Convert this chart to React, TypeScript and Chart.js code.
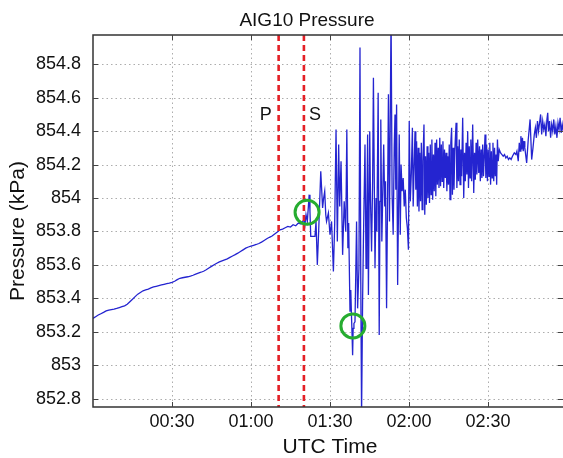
import React, { useEffect, useRef } from 'react';
import { Chart, registerables } from 'chart.js';

Chart.register(...registerables);

const FONT = '"Liberation Sans", Arial, Helvetica, sans-serif';

const chartTitle = 'AIG10 Pressure';
const xAxisTitle = 'UTC Time';
const yAxisTitle = 'Pressure (kPa)';

const xTickMinutes = [30, 60, 90, 120, 150];
const yTickValues = [852.8, 853.0, 853.2, 853.4, 853.6, 853.8, 854.0, 854.2, 854.4, 854.6, 854.8];

const phaseNames = ['P', 'S'];
const phaseMinutes = [70.5, 80.1];

const circleMinutes = [81.3, 98.7];
const circlePressures = [853.915, 853.235];

const quietMinutes = [
  0, 1, 2, 3, 4, 5, 6, 7, 8, 9, 10, 11, 12, 13, 14, 15, 16, 17, 18, 19,
  20, 21, 22, 23, 24, 25, 26, 27, 28, 29, 30, 31, 32, 33, 34, 35, 36, 37, 38, 39,
  40, 41, 42, 43, 44, 45, 46, 47, 48, 49, 50, 51, 52, 53, 54, 55, 56, 57, 58, 59,
  60, 61, 62, 63, 64, 65, 66, 67, 68, 69, 70, 71, 72, 73, 74, 75, 76, 77, 78, 79,
];
const quietPressures = [
  853.280, 853.290, 853.300, 853.308, 853.316, 853.325, 853.330, 853.333, 853.336, 853.340,
  853.345, 853.350, 853.355, 853.365, 853.380, 853.395, 853.410, 853.425, 853.435, 853.445,
  853.450, 853.455, 853.462, 853.468, 853.472, 853.476, 853.480, 853.484, 853.488, 853.491,
  853.495, 853.502, 853.512, 853.520, 853.523, 853.526, 853.529, 853.533, 853.538, 853.545,
  853.551, 853.556, 853.562, 853.571, 853.581, 853.591, 853.601, 853.610, 853.618, 853.624,
  853.630, 853.636, 853.645, 853.653, 853.661, 853.670, 853.680, 853.690, 853.700, 853.707,
  853.712, 853.717, 853.722, 853.728, 853.736, 853.746, 853.756, 853.765, 853.773, 853.785,
  853.797, 853.810, 853.814, 853.822, 853.830, 853.826, 853.840, 853.834, 853.850, 853.845,
];

// [minutes after 00:00, pressure kPa]
const shakingTrace: [number, number][] = [
  [80.1, 853.87], [80.5, 853.84], [80.9, 853.90], [81.4, 853.86], [81.8, 853.95], [82.1, 854.02],
  [82.4, 853.92], [82.7, 853.77], [83.5, 853.77], [84.3, 853.77], [84.7, 853.86], [85.2, 853.60],
  [85.7, 853.80], [86.5, 854.16], [87.2, 853.94], [87.6, 854.00], [88.0, 854.04], [88.4, 853.90],
  [88.7, 853.86], [89.4, 853.91], [90.0, 853.78], [90.6, 853.86], [91.3, 853.56], [91.8, 853.85],
  [92.3, 854.41], [92.8, 853.74], [93.3, 854.32], [93.7, 853.95], [94.2, 854.22], [94.8, 853.66],
  [95.4, 853.98], [96.0, 853.80], [96.4, 854.41], [96.8, 853.70], [97.1, 853.85], [97.6, 853.32],
  [97.9, 853.45], [98.2, 853.28], [98.4, 853.18], [98.6, 853.06], [98.8, 853.22], [99.1, 853.25],
  [99.5, 853.26], [99.8, 853.55], [100.1, 853.86], [100.5, 853.34], [101.0, 853.58], [101.4, 854.90],
  [101.7, 853.50], [102.0, 852.70], [102.4, 853.40], [102.7, 853.74], [103.3, 854.32], [103.7, 853.58],
  [104.0, 853.90], [104.3, 854.38], [104.6, 853.42], [105.1, 854.40], [105.4, 853.98], [105.8, 853.68],
  [106.2, 854.10], [106.5, 854.72], [107.1, 853.58], [107.5, 854.00], [107.8, 853.80], [108.3, 854.63],
  [108.7, 853.18], [109.0, 853.98], [109.3, 854.47], [109.7, 853.74], [110.4, 854.32], [110.8, 853.95],
  [111.1, 854.10], [111.5, 853.34], [111.9, 854.05], [112.2, 854.62], [112.6, 853.86], [113.2, 855.10],
  [113.6, 854.02], [114.0, 853.78], [114.4, 854.30], [114.7, 854.50], [115.0, 854.05], [115.3, 854.56],
  [115.7, 853.48], [116.0, 853.90], [116.3, 854.38], [116.7, 853.78], [117.0, 854.20], [117.4, 854.04],
  [117.8, 854.12], [118.2, 853.95], [118.6, 854.05], [119.0, 853.88], [119.4, 853.82], [119.8, 853.69],
  [120.1, 854.46], [120.5, 853.98], [120.9, 854.15], [121.3, 854.42], [121.6, 853.95], [122.0, 854.22],
  [122.3, 854.40], [122.6, 854.05], [122.9, 854.34], [123.2, 853.95], [123.5, 854.30], [123.8, 853.92],
  [124.1, 854.27], [124.4, 853.98], [124.7, 854.33], [125.0, 853.93], [125.3, 854.22], [125.7, 854.44],
  [126.0, 853.90], [126.3, 854.25], [126.6, 853.96], [126.9, 854.31], [127.2, 854.00], [127.5, 854.27],
  [127.8, 853.97], [128.1, 854.32], [128.4, 854.02], [128.7, 854.35], [129.0, 853.99], [129.3, 854.26],
  [129.6, 854.04], [129.9, 854.33], [130.2, 854.01], [130.5, 854.35], [130.8, 854.08], [131.1, 854.30],
  [131.4, 854.06], [131.7, 854.36], [132.0, 854.07], [132.3, 854.32], [132.6, 854.10], [132.9, 854.34],
  [133.2, 854.06], [133.5, 854.29], [133.8, 854.12], [134.1, 854.27], [134.4, 854.04], [134.7, 854.25],
  [135.0, 854.08], [135.3, 854.32], [135.6, 853.99], [135.9, 854.33], [136.2, 854.42], [136.5, 854.02],
  [136.8, 854.30], [137.1, 854.05], [137.4, 854.28], [137.9, 854.45], [138.2, 854.06], [138.5, 854.31],
  [138.8, 854.10], [139.1, 854.35], [139.4, 854.08], [139.7, 854.29], [140.0, 854.13], [140.4, 854.48],
  [140.8, 854.00], [141.1, 854.27], [141.4, 854.10], [141.7, 854.33], [142.0, 854.14], [142.3, 854.40],
  [142.6, 854.06], [142.9, 854.31], [143.2, 854.12], [143.5, 854.35], [143.8, 854.10], [144.2, 854.44],
  [144.6, 854.03], [144.9, 854.27], [145.2, 854.11], [145.5, 854.33], [145.8, 854.14], [146.1, 854.35],
  [146.5, 854.15], [146.8, 854.31], [147.1, 854.10], [147.4, 854.29], [147.7, 854.12], [148.0, 854.32],
  [148.3, 854.13], [148.9, 854.38], [149.2, 854.12], [149.5, 854.32], [149.8, 854.10], [150.1, 854.29],
  [150.4, 854.13], [150.7, 854.33], [151.0, 854.08], [151.3, 854.28], [151.6, 854.12], [151.9, 854.33],
  [152.2, 854.10], [152.5, 854.30], [152.8, 854.13], [153.1, 854.26], [153.3, 854.08], [153.6, 854.35],
  [153.9, 854.22], [154.3, 854.29], [154.8, 854.27], [155.3, 854.26], [155.8, 854.25], [156.3, 854.26],
  [156.8, 854.24], [157.3, 854.25], [157.8, 854.23], [158.3, 854.24], [158.8, 854.23], [159.3, 854.25],
  [160.0, 854.27], [160.6, 854.26], [161.0, 854.28], [161.5, 854.22], [161.9, 854.33], [162.2, 854.28],
  [162.5, 854.37], [162.8, 854.29], [163.1, 854.36], [163.4, 854.28], [163.7, 854.34], [164.0, 854.30],
  [164.7, 854.21], [165.3, 854.35], [166.0, 854.47], [166.6, 854.23], [167.1, 854.30], [167.6, 854.38],
  [168.0, 854.42], [168.4, 854.36], [168.8, 854.46], [169.2, 854.40], [169.6, 854.45], [170.0, 854.50],
  [170.4, 854.38], [170.8, 854.46], [171.2, 854.41], [171.6, 854.44], [172.0, 854.37], [172.4, 854.47],
  [172.7, 854.51], [173.0, 854.40], [173.4, 854.46], [173.8, 854.36], [174.2, 854.44], [174.6, 854.40],
  [175.0, 854.47], [175.4, 854.38], [175.8, 854.43], [176.2, 854.36], [176.6, 854.45], [177.0, 854.41],
  [177.4, 854.48], [177.8, 854.39], [178.2, 854.44], [178.6, 854.40],
];

const X_MIN = 0;
const X_MAX = 178.5;
const Y_MIN = 852.75;
const Y_MAX = 854.975;

function fmtTime(m: number): string {
  const h = Math.floor(m / 60);
  const mm = Math.round(m - h * 60);
  return String(h).padStart(2, '0') + ':' + String(mm).padStart(2, '0');
}

const decorPlugin = {
  id: 'decor',
  beforeDatasetsDraw(chart: any) {
    const { ctx, chartArea: a, scales } = chart;
    const x = scales.x;
    const y = scales.y;
    ctx.save();
    ctx.strokeStyle = 'rgba(0,0,0,0.32)';
    ctx.lineWidth = 1;
    ctx.setLineDash([1.5, 3]);
    for (const t of xTickMinutes) {
      const px = Math.round(x.getPixelForValue(t)) + 0.5;
      ctx.beginPath();
      ctx.moveTo(px, a.top);
      ctx.lineTo(px, a.bottom);
      ctx.stroke();
    }
    for (const v of yTickValues) {
      const py = Math.round(y.getPixelForValue(v)) + 0.5;
      ctx.beginPath();
      ctx.moveTo(a.left, py);
      ctx.lineTo(a.right, py);
      ctx.stroke();
    }
    ctx.restore();
  },
  afterDatasetsDraw(chart: any) {
    const { ctx, chartArea: a, scales } = chart;
    const x = scales.x;
    const y = scales.y;
    ctx.save();
    // phase lines
    ctx.strokeStyle = 'rgb(228,32,38)';
    ctx.lineWidth = 2.6;
    ctx.setLineDash([6, 4]);
    for (const t of phaseMinutes) {
      const px = x.getPixelForValue(t);
      ctx.beginPath();
      ctx.moveTo(px, a.top);
      ctx.lineTo(px, a.bottom);
      ctx.stroke();
    }
    ctx.setLineDash([]);
    // circles
    ctx.strokeStyle = 'rgb(38,172,48)';
    ctx.lineWidth = 3;
    circleMinutes.forEach((t, i) => {
      const px = x.getPixelForValue(t);
      const py = y.getPixelForValue(circlePressures[i]);
      ctx.beginPath();
      ctx.arc(px, py, 12, 0, Math.PI * 2);
      ctx.stroke();
    });
    // box
    ctx.strokeStyle = '#333';
    ctx.lineWidth = 1.5;
    ctx.beginPath();
    ctx.moveTo(a.right + 1, a.top);
    ctx.lineTo(a.left, a.top);
    ctx.lineTo(a.left, a.bottom);
    ctx.lineTo(a.right + 1, a.bottom);
    ctx.stroke();
    // inner ticks
    ctx.lineWidth = 1;
    ctx.strokeStyle = '#444';
    for (const t of xTickMinutes) {
      const px = Math.round(x.getPixelForValue(t)) + 0.5;
      ctx.beginPath();
      ctx.moveTo(px, a.bottom);
      ctx.lineTo(px, a.bottom - 5);
      ctx.moveTo(px, a.top);
      ctx.lineTo(px, a.top + 5);
      ctx.stroke();
    }
    for (const v of yTickValues) {
      const py = Math.round(y.getPixelForValue(v)) + 0.5;
      ctx.beginPath();
      ctx.moveTo(a.left, py);
      ctx.lineTo(a.left + 5, py);
      ctx.moveTo(a.right, py);
      ctx.lineTo(a.right - 5, py);
      ctx.stroke();
    }
    ctx.restore();
  },
  afterDraw(chart: any) {
    const { ctx, scales } = chart;
    const x = scales.x;
    ctx.save();
    ctx.fillStyle = '#111';
    ctx.textAlign = 'center';
    ctx.textBaseline = 'middle';
    // phase labels
    ctx.font = `18px ${FONT}`;
    const labelOffsets = [-13, 11];
    phaseNames.forEach((name, i) => {
      const px = x.getPixelForValue(phaseMinutes[i]) + labelOffsets[i];
      ctx.fillText(name, px, 115);
    });
    // title
    ctx.font = `19px ${FONT}`;
    ctx.fillText(chartTitle, 307, 21);
    // x title
    ctx.font = `21px ${FONT}`;
    ctx.fillText(xAxisTitle, 330, 447);
    // y title
    ctx.translate(18, 231);
    ctx.rotate(-Math.PI / 2);
    ctx.fillText(yAxisTitle, 0, 0);
    ctx.restore();
  },
};

export default function App() {
  const ref = useRef<HTMLCanvasElement | null>(null);

  useEffect(() => {
    if (!ref.current) return;
    const points = quietMinutes
      .map((t, i) => ({ x: t, y: quietPressures[i] }))
      .concat(shakingTrace.map(([t, v]) => ({ x: t, y: v })));

    const chart = new Chart(ref.current, {
      type: 'line',
      data: {
        datasets: [
          {
            label: 'AIG10',
            data: points,
            borderColor: 'rgb(36,36,208)',
            borderWidth: 1.3,
            pointRadius: 0,
            tension: 0,
            fill: false,
          },
        ],
      },
      options: {
        animation: false,
        responsive: false,
        devicePixelRatio: 1,
        layout: { padding: { top: 35, left: 0, right: 0, bottom: 0 } },
        plugins: {
          legend: { display: false },
          title: { display: false },
          tooltip: { enabled: false },
        },
        scales: {
          x: {
            type: 'linear',
            min: X_MIN,
            max: X_MAX,
            afterBuildTicks: (s: any) => {
              s.ticks = xTickMinutes.map((v) => ({ value: v }));
            },
            afterFit: (s: any) => {
              s.height = 51;
            },
            grid: { display: false, drawTicks: false },
            border: { display: false },
            ticks: {
              padding: 4,
              color: '#111',
              font: { family: FONT, size: 18 },
              maxRotation: 0,
              autoSkip: false,
              callback: (v: any) => fmtTime(Number(v)),
            },
          },
          y: {
            type: 'linear',
            min: Y_MIN,
            max: Y_MAX,
            afterBuildTicks: (s: any) => {
              s.ticks = yTickValues.map((v) => ({ value: v }));
            },
            afterFit: (s: any) => {
              s.width = 93;
            },
            grid: { display: false, drawTicks: false },
            border: { display: false },
            ticks: {
              padding: 12,
              color: '#111',
              font: { family: FONT, size: 18 },
              autoSkip: false,
              callback: (v: any) => String(Number(Number(v).toFixed(1))),
            },
          },
        },
      },
      plugins: [decorPlugin],
    });
    return () => chart.destroy();
  }, []);

  return (
    <div style={{ position: 'absolute', left: 0, top: 0, width: 563, height: 458, background: '#fff' }}>
      <canvas ref={ref} width={563} height={458} style={{ display: 'block' }} />
    </div>
  );
}
